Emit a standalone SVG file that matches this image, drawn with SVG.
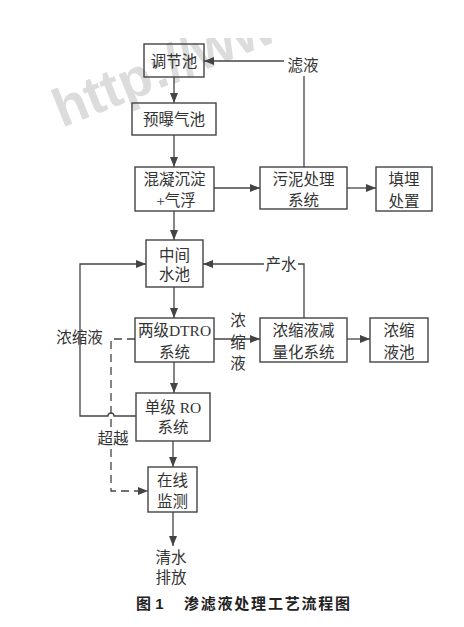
<svg xmlns="http://www.w3.org/2000/svg" width="464" height="627" viewBox="0 0 464 627">
<style>
.box{fill:none;stroke:#444;stroke-width:1.4}
.ln{fill:none;stroke:#444;stroke-width:1.3}
.dash{fill:none;stroke:#444;stroke-width:1.3;stroke-dasharray:8 5}
.t{font-family:"Liberation Serif","Noto Sans CJK SC",serif;font-size:15.5px;fill:#333;text-anchor:middle}
.cap{font-family:"Liberation Sans","Noto Sans CJK SC",sans-serif;font-size:15px;font-weight:bold;fill:#222}
.wm{font-family:"Liberation Sans",sans-serif;font-size:54px;font-weight:bold;fill:#dcdcdc}
</style>
<defs>
<marker id="ar" viewBox="0 0 10 8" refX="10" refY="4" markerWidth="10" markerHeight="8" markerUnits="userSpaceOnUse" orient="auto">
<path d="M0,0 L10,4 L0,8 Z" fill="#444"/>
</marker>
<clipPath id="cc"><rect x="40" y="38" width="400" height="200"/></clipPath>
</defs>
<rect x="0" y="0" width="464" height="627" fill="#fff"/>
<g clip-path="url(#cc)">
<text class="wm" x="62" y="128" transform="rotate(-22 62 128)">http://www.w</text>
</g>

<g id="connectors">
<line class="ln" x1="174" y1="77" x2="174" y2="103" marker-end="url(#ar)"/>
<line class="ln" x1="174" y1="135" x2="174" y2="167" marker-end="url(#ar)"/>
<line class="ln" x1="214" y1="188" x2="260" y2="188" marker-end="url(#ar)"/>
<line class="ln" x1="347" y1="188" x2="376" y2="188" marker-end="url(#ar)"/>
<line class="ln" x1="304" y1="167" x2="304" y2="76"/>
<line class="ln" x1="284" y1="61" x2="204" y2="61" marker-end="url(#ar)"/>
<line class="ln" x1="174" y1="211" x2="174" y2="240" marker-end="url(#ar)"/>
<line class="ln" x1="174" y1="287" x2="174" y2="318" marker-end="url(#ar)"/>
<polyline class="ln" points="304,318 304,264 298,264"/>
<line class="ln" x1="264" y1="264" x2="203" y2="264" marker-end="url(#ar)"/>
<line class="ln" x1="214" y1="339" x2="260" y2="339" marker-end="url(#ar)"/>
<line class="ln" x1="347" y1="339" x2="370" y2="339" marker-end="url(#ar)"/>
<line class="ln" x1="174" y1="362" x2="174" y2="393" marker-end="url(#ar)"/>
<path class="ln" d="M136,416 L114,416 A3,3 0 0 0 108,416 L80,416 L80,264 L146,264" marker-end="url(#ar)"/>
<polyline class="dash" points="135,339 111,339 111,428"/>
<polyline class="dash" points="111,449 111,491 148,491" marker-end="url(#ar)"/>
<line class="ln" x1="173" y1="441" x2="173" y2="467" marker-end="url(#ar)"/>
<line class="ln" x1="173" y1="512" x2="173" y2="546" marker-end="url(#ar)"/>
</g>

<g id="n-tiaojiechi"><rect class="box" x="144" y="44" width="60" height="33"/><text class="t" x="174" y="66.5">调节池</text></g>
<g id="n-yupuqichi"><rect class="box" x="132" y="103" width="84" height="32"/><text class="t" x="174" y="125">预曝气池</text></g>
<g id="n-hunning"><rect class="box" x="135" y="167" width="79" height="44"/><text class="t" x="174.5" y="184.5">混凝沉淀</text><text class="t" x="176" y="206">+气浮</text></g>
<g id="n-wuni"><rect class="box" x="260" y="167" width="87" height="42"/><text class="t" x="303.5" y="184.5">污泥处理</text><text class="t" x="303.5" y="205.5">系统</text></g>
<g id="n-tianmai"><rect class="box" x="376" y="167" width="56" height="44"/><text class="t" x="404" y="184.5">填埋</text><text class="t" x="404" y="206.5">处置</text></g>
<g id="n-zhongjian"><rect class="box" x="146" y="240" width="57" height="47"/><text class="t" x="174.5" y="260.5">中间</text><text class="t" x="174.5" y="280">水池</text></g>
<g id="n-dtro"><rect class="box" x="135" y="318" width="79" height="44"/><text class="t" x="174.5" y="335.5">两级DTRO</text><text class="t" x="174.5" y="357.5">系统</text></g>
<g id="n-jianlianghua"><rect class="box" x="260" y="318" width="87" height="44"/><text class="t" x="303.5" y="335.5">浓缩液减</text><text class="t" x="303.5" y="357.5">量化系统</text></g>
<g id="n-nongsuoyechi"><rect class="box" x="370" y="318" width="58" height="44"/><text class="t" x="399" y="335.5">浓缩</text><text class="t" x="399" y="357.5">液池</text></g>
<g id="n-ro"><rect class="box" x="136" y="393" width="74" height="48"/><text class="t" x="173" y="412.5">单级 RO</text><text class="t" x="173" y="432.5">系统</text></g>
<g id="n-zaixian"><rect class="box" x="148" y="467" width="49" height="45"/><text class="t" x="172.5" y="485.5">在线</text><text class="t" x="172.5" y="506.5">监测</text></g>

<g id="labels">
<text class="t" x="303" y="70.5">滤液</text>
<text class="t" x="281" y="269.5">产水</text>
<text class="t" x="79.5" y="342.5">浓缩液</text>
<text class="t" x="238" y="325.5">浓</text>
<text class="t" x="238" y="347.5">缩</text>
<text class="t" x="238" y="368.5">液</text>
<text class="t" x="113" y="443.5">超越</text>
<text class="t" x="171" y="562.5">清水</text>
<text class="t" x="171" y="582.5">排放</text>
</g>

<g id="caption">
<text class="cap" x="136" y="608.5">图 1</text>
<text class="cap" x="184" y="608.5" textLength="166">渗滤液处理工艺流程图</text>
</g>
</svg>
